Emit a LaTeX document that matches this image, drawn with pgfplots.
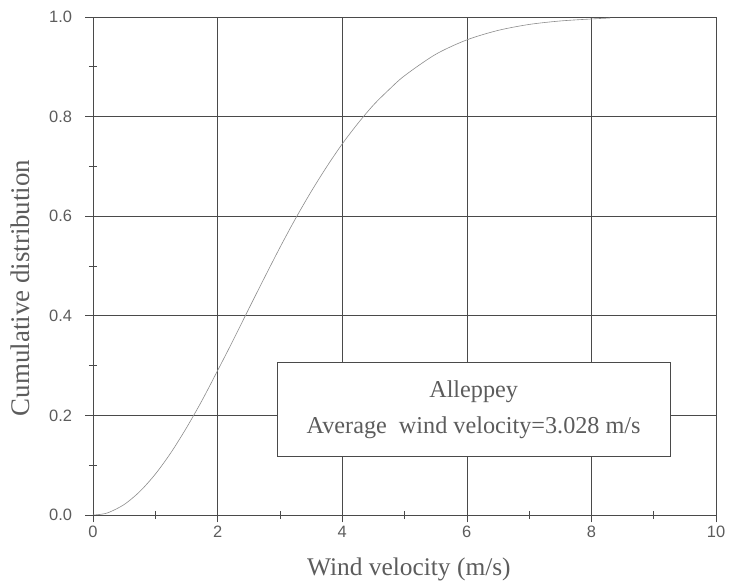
\documentclass[border=0pt]{standalone}
\usepackage{pgfplots}
\pgfplotsset{compat=1.18}
\usepackage{fontspec}
\setmainfont{Liberation Serif}
\newfontfamily\ticksans{Liberation Sans}
\definecolor{axgray}{HTML}{4A4A4A}
\definecolor{txtgray}{HTML}{5C5C5C}
\definecolor{curvegray}{HTML}{8C8C8C}

\pgfplotstableread{
v F
0.00 0.000
0.10 0.001
0.25 0.005
0.50 0.021
0.75 0.047
1.00 0.082
1.25 0.125
1.50 0.175
1.75 0.230
2.00 0.290
2.25 0.351
2.50 0.414
2.75 0.476
3.00 0.537
3.25 0.595
3.50 0.649
3.75 0.699
4.00 0.745
4.25 0.786
4.50 0.823
4.75 0.854
5.00 0.882
5.50 0.925
6.00 0.954
6.50 0.973
7.00 0.985
7.50 0.992
8.00 0.996
8.30 0.998
}\cdf

\begin{document}
\begin{tikzpicture}[x=1bp,y=1bp]
\useasboundingbox (-93,-71) rectangle (637,515);
\begin{axis}[
  at={(0,0)}, anchor=south west,
  scale only axis,
  width=623bp, height=498bp,
  xmin=0, xmax=10, ymin=0, ymax=1,
  xtick={0,2,4,6,8,10},
  ytick={0,0.2,0.4,0.6,0.8,1.0},
  minor x tick num=1, minor y tick num=1,
  xtick pos=bottom, ytick pos=left,
  tick align=center,
  major tick length=15bp,
  minor tick length=8bp,
  tick style={axgray, line width=0.6bp},
  grid=major,
  major grid style={axgray, line width=0.6bp},
  axis line style={axgray, line width=0.9bp},
  /pgf/number format/assume math mode=true,
  every tick label/.append style={font=\ticksans\fontsize{16.5}{16.5}\selectfont, text=txtgray},
  yticklabel style={xshift=-10bp, /pgf/number format/.cd, fixed, fixed zerofill, precision=1},
  xlabel={Wind velocity (m/s)},
  ylabel={Cumulative distribution},
  label style={text=txtgray},
  xlabel style={font=\fontsize{25.5}{25.5}\selectfont, at={(axis description cs:0.507,-0.110)}, anchor=center},
  ylabel style={font=\fontsize{27}{27}\selectfont, at={(axis description cs:-0.117,0.456)}, anchor=center},
]
  \addplot[curvegray, line width=0.6bp, smooth] table[x=v, y=F] {\cdf};
  \node[draw=axgray, line width=0.6bp, fill=white, minimum width=393bp, minimum height=94bp,
        align=center, text=txtgray, font=\fontsize{24.3}{37}\selectfont]
        at (axis cs:6.11,0.2115) {Alleppey\\Average\ \ wind velocity=3.028 m/s};
\end{axis}
\end{tikzpicture}
\end{document}
